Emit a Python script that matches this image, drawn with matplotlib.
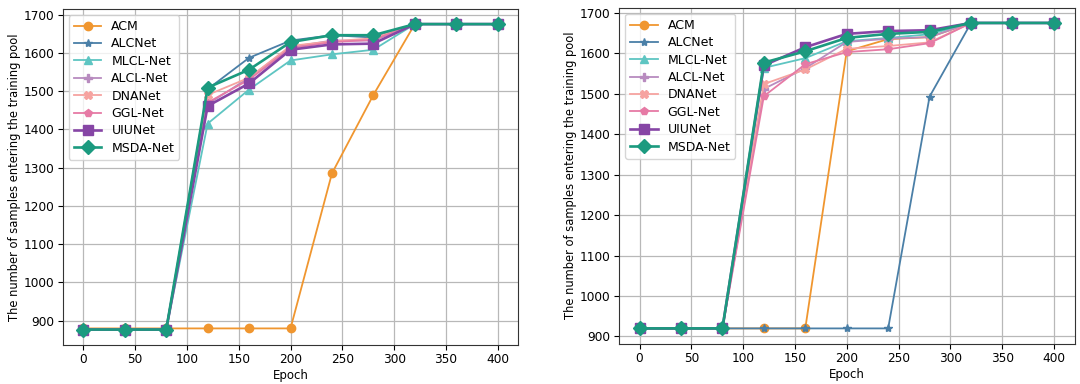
import matplotlib
matplotlib.use('Agg')
import matplotlib.pyplot as plt

epochs = [0, 40, 80, 120, 160, 200, 240, 280, 320, 360, 400]
names = ['ACM', 'ALCNet', 'MLCL-Net', 'ALCL-Net', 'DNANet', 'GGL-Net', 'UIUNet', 'MSDA-Net']

# left panel
left = {
    'ACM':      [880, 880, 880, 880, 880, 880, 1285, 1490, 1675, 1675, 1675],
    'ALCNet':   [877, 877, 877, 1505, 1587, 1632, 1646, 1640, 1675, 1675, 1675],
    'MLCL-Net': [877, 877, 877, 1415, 1504, 1580, 1596, 1608, 1675, 1675, 1675],
    'ALCL-Net': [877, 877, 877, 1466, 1535, 1615, 1632, 1632, 1675, 1675, 1675],
    'DNANet':   [877, 877, 877, 1490, 1535, 1618, 1630, 1638, 1675, 1675, 1675],
    'GGL-Net':  [877, 877, 877, 1470, 1530, 1612, 1628, 1634, 1675, 1675, 1675],
    'UIUNet':   [877, 877, 877, 1461, 1520, 1608, 1622, 1624, 1675, 1675, 1675],
    'MSDA-Net': [877, 877, 877, 1509, 1556, 1628, 1646, 1646, 1675, 1675, 1675],
}

# right panel
right = {
    'ACM':      [920, 920, 920, 920, 920, 1605, 1635, 1640, 1675, 1675, 1675],
    'ALCNet':   [920, 920, 920, 920, 920, 920, 920, 1493, 1675, 1675, 1675],
    'MLCL-Net': [920, 920, 920, 1564, 1588, 1630, 1638, 1647, 1675, 1675, 1675],
    'ALCL-Net': [920, 920, 920, 1512, 1563, 1628, 1636, 1640, 1675, 1675, 1675],
    'DNANet':   [920, 920, 920, 1524, 1560, 1611, 1618, 1627, 1675, 1675, 1675],
    'GGL-Net':  [920, 920, 920, 1494, 1573, 1603, 1610, 1625, 1675, 1675, 1675],
    'UIUNet':   [920, 920, 920, 1570, 1615, 1648, 1655, 1657, 1675, 1675, 1675],
    'MSDA-Net': [920, 920, 920, 1577, 1605, 1638, 1648, 1653, 1675, 1675, 1675],
}

colors = ['#f0962f', '#4a7fa7', '#5ec5c2', '#b88bbf', '#f6a3a0', '#e67aa5', '#8645a5', '#1b9a7f']
markers = ['o', '*', '^', 'P', 'X', 'p', 's', 'D']
lws = [1.3, 1.3, 1.3, 1.3, 1.3, 1.3, 1.9, 1.9]
mss = [6, 6, 6, 6, 6, 6, 6.5, 7]

plt.rcParams['font.size'] = 9
fig = plt.figure(figsize=(10.8, 3.84), dpi=100)
ax1 = fig.add_axes([0.058, 0.102, 0.422, 0.875])
ax2 = fig.add_axes([0.573, 0.105, 0.422, 0.875])

for ax, data in [(ax1, left), (ax2, right)]:
    for i, n in enumerate(names):
        ax.plot(epochs, data[n], color=colors[i], marker=markers[i],
                linewidth=lws[i], markersize=mss[i], label=n)
    ax.grid(True, color='#b8b8b8', linewidth=0.9)
    ax.set_axisbelow(True)
    ax.set_xticks([0, 50, 100, 150, 200, 250, 300, 350, 400])
    ax.tick_params(labelsize=8.7, pad=2.5)
    ax.set_xlabel('Epoch', fontsize=8.5, labelpad=2)
    ax.set_ylabel('The number of samples entering the training pool', fontsize=8.3,
                  labelpad=2)
    ax.legend(loc='upper left', fontsize=9, handlelength=2.2, borderpad=0.4,
              labelspacing=0.35)
    for s in ax.spines.values():
        s.set_color('#333333')

fig.savefig('out.png', dpi=100)
